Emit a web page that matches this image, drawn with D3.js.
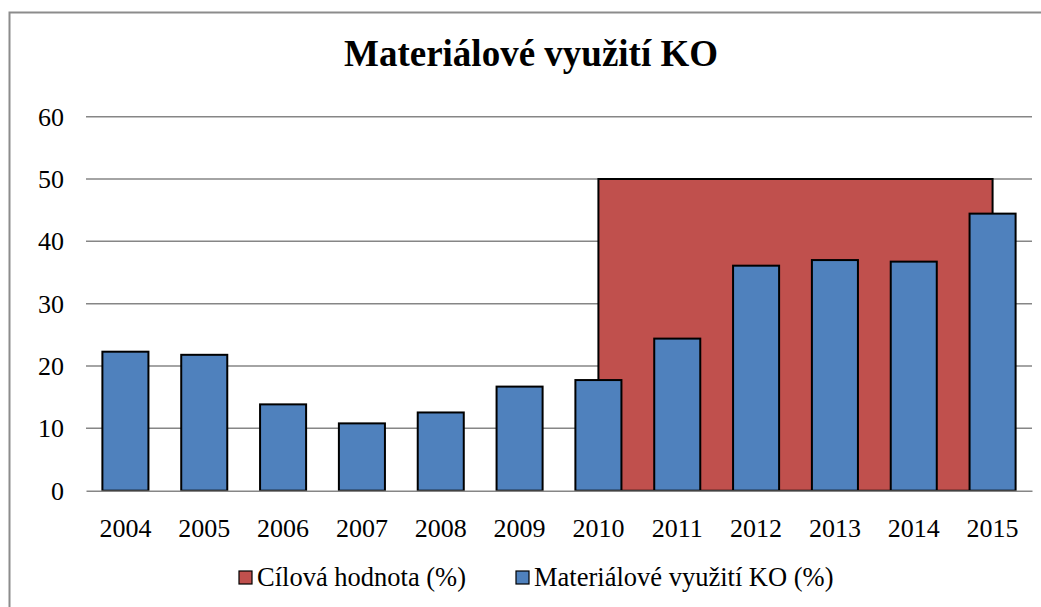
<!DOCTYPE html>
<html>
<head>
<meta charset="utf-8">
<script src="https://cdn.jsdelivr.net/npm/d3@7"></script>
<style>
    body{margin:0;background:#fff;}
    svg text{font-family:"Liberation Serif","Times New Roman",serif !important;fill:#000;}
</style>
</head>
<body>
<svg id="chart" width="1041" height="607"></svg>
<script>
// data
var years=["2004","2005","2006","2007","2008","2009","2010","2011","2012","2013","2014","2015"];
var usage=[22.3,21.8,13.85,10.8,12.55,16.7,17.75,24.4,36.1,37.0,36.75,44.45];
var targetYears=["2010","2011","2012","2013","2014","2015"];
var targetValues=[50,50,50,50,50,50];
var yTicks=[0,10,20,30,40,50,60];
var seriesNames=["Cílová hodnota (%)","Materiálové využití KO (%)"];
var chartTitle="Materiálové využití KO";

var space={"width":1041,"height":607,"margin":{"left":86,"right":9,"top":116.7,"bottom":116.3}};
var colors={"target":"#C0504D","usage":"#4F81BD","grid":"#868686"};
var fontFam="'Liberation Serif','Times New Roman',serif";

var svg=d3.select("#chart");

// chart frame (right and bottom edge are out of the picture)
svg.append("rect")
    .attr("x",9.5).attr("y",12.5)
    .attr("width",1100).attr("height",700)
    .attr("fill","#fff")
    .attr("stroke","#8c8c8c")
    .attr("stroke-width",2);

svg.append("text")
    .attr("x",531).attr("y",66)
    .attr("text-anchor","middle")
    .attr("font-size",37)
    .attr("font-weight","bold")
    .style("font-family",fontFam)
    .text(chartTitle);

var plotW=space.width-space.margin.left-space.margin.right,
    plotH=space.height-space.margin.top-space.margin.bottom;

var x=d3.scaleBand().domain(years).range([0,plotW]).paddingInner(0.416).paddingOuter(0.208);
var y=d3.scaleLinear().domain([0,60]).range([plotH,0]);

var g=svg.append("g")
    .attr("transform","translate("+space.margin.left+","+space.margin.top+")");

//gridlines
g.append("g").selectAll("line")
    .data(yTicks.slice(1))
    .enter().append("line")
    .attr("x1",0).attr("x2",plotW)
    .attr("y1",function(d){return y(d)}).attr("y2",function(d){return y(d)})
    .attr("stroke",colors.grid)
    .attr("stroke-width",1.5);

//target area, drawn between category centres
var targetData=targetYears.map(function(d,i){return {"year":d,"value":targetValues[i]}});
var area=d3.area()
    .x(function(d){return x(d.year)+x.bandwidth()/2})
    .y0(y(0))
    .y1(function(d){return y(d.value)});
g.append("path")
    .datum(targetData)
    .attr("d",area)
    .attr("fill",colors.target)
    .attr("stroke","#000")
    .attr("stroke-width",2);

//bars
g.append("g").selectAll("rect")
    .data(usage)
    .enter().append("rect")
    .attr("x",function(d,i){return x(years[i])})
    .attr("y",function(d){return y(d)})
    .attr("width",x.bandwidth())
    .attr("height",function(d){return y(0)-y(d)})
    .attr("fill",colors.usage)
    .attr("stroke","#000")
    .attr("stroke-width",2);

//x axis
var xAxis=d3.axisBottom(x).tickSize(0).tickPadding(28);
var xg=g.append("g")
    .attr("transform","translate(0,"+y(0)+")")
    .call(xAxis)
    .attr("font-family",null);
xg.select(".domain").attr("stroke",colors.grid).attr("stroke-width",1.5);
xg.selectAll("text").attr("font-size",26).style("font-family",fontFam).attr("fill","#000");

var yAxis=d3.axisLeft(y).tickValues(yTicks).tickSize(0).tickPadding(22);
var yg=g.append("g").call(yAxis).attr("font-family",null);
yg.select(".domain").remove();
yg.selectAll("text").attr("font-size",26).style("font-family",fontFam).attr("fill","#000");

//legend
var legendItems=[{"name":seriesNames[0],"color":colors.target,"x":239},{"name":seriesNames[1],"color":colors.usage,"x":516}];
var legend=svg.append("g").selectAll("g")
    .data(legendItems)
    .enter().append("g")
    .attr("transform",function(d){return "translate("+d.x+",571)"});
legend.append("rect")
    .attr("width",13).attr("height",13)
    .attr("fill",function(d){return d.color})
    .attr("stroke","#000")
    .attr("stroke-width",1.2);
legend.append("text")
    .attr("x",18).attr("y",15)
    .attr("font-size",26.5)
    .style("font-family",fontFam)
    .text(function(d){return d.name});
</script>
</body>
</html>
